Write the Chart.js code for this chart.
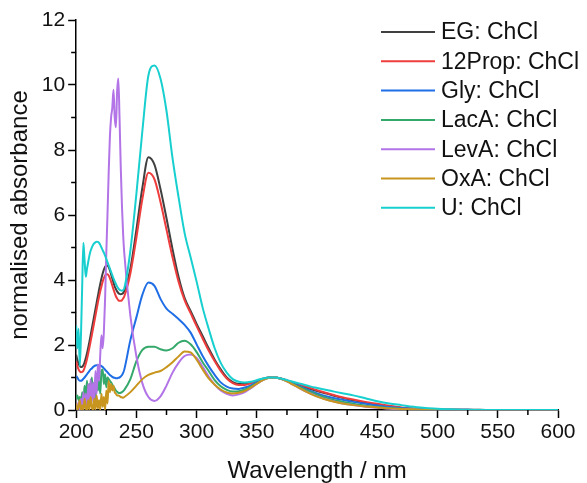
<!DOCTYPE html>
<html>
<head>
<meta charset="utf-8">
<title>normalised absorbance</title>
<script src="https://cdn.jsdelivr.net/npm/chart.js@4.4.1/dist/chart.umd.min.js"></script>
<style>
  html, body { margin: 0; padding: 0; background: #fff; }
  #wrap { width: 587px; height: 483px; }
</style>
</head>
<body>
<div id="wrap"><canvas id="spectra"></canvas></div>
<script>
// wavelength grid (nm): 1 nm steps 200-240, 5 nm to 400, 10 nm to 600
const wavelength = [
  200,201,202,203,204,205,206,207,208,209,
  210,211,212,213,214,215,216,217,218,219,
  220,221,222,223,224,225,226,227,228,229,
  230,231,232,233,234,235,236,237,238,239,
  240,
  245,250,255,260,265,270,275,280,285,290,295,300,305,310,315,320,
  325,330,335,340,345,350,355,360,365,370,375,380,385,390,395,400,
  410,420,430,440,450,460,470,480,490,500,510,520,530,540,550,560,570,580,590,600
];

const seriesNames = ['EG: ChCl', '12Prop: ChCl', 'Gly: ChCl', 'LacA: ChCl', 'LevA: ChCl', 'OxA: ChCl', 'U: ChCl'];
const seriesColors = ['#404040', '#ef3d3d', '#1f6ee6', '#35a86b', '#b274e6', '#c8961e', '#18cfcf'];

const egValues = [
  1.70,1.55,1.42,1.35,1.32,1.33,1.38,1.47,1.60,1.75,
  1.92,2.10,2.30,2.50,2.70,2.90,3.10,3.30,3.50,3.70,
  3.88,4.05,4.20,4.32,4.40,4.45,4.45,4.40,4.30,4.18,
  4.05,3.92,3.80,3.72,3.65,3.60,3.57,3.56,3.57,3.60,
  3.66,
  4.35,5.55,6.85,7.78,7.55,6.80,5.90,4.95,4.10,3.45,3.05,2.65,2.28,1.90,1.55,1.25,
  1.00,0.86,0.80,0.80,0.84,0.90,0.96,1.00,1.00,0.96,0.90,0.83,0.76,0.70,0.64,0.58,
  0.48,0.38,0.30,0.22,0.16,0.10,0.06,0.03,0.02,0.01,0.01,0.01,0,0,0,0,0,0,0,0
];

const propValues = [
  1.50,1.35,1.25,1.19,1.16,1.17,1.21,1.30,1.42,1.57,
  1.74,1.92,2.11,2.30,2.50,2.70,2.90,3.10,3.30,3.48,
  3.65,3.80,3.95,4.06,4.14,4.18,4.18,4.14,4.06,3.95,
  3.83,3.71,3.60,3.50,3.43,3.38,3.36,3.36,3.38,3.43,
  3.50,
  4.20,5.30,6.50,7.30,7.10,6.40,5.55,4.70,3.95,3.38,2.98,2.58,2.20,1.83,1.50,1.20,
  0.97,0.83,0.77,0.77,0.82,0.89,0.95,1.00,1.00,0.97,0.91,0.85,0.79,0.73,0.67,0.61,
  0.50,0.40,0.32,0.25,0.19,0.13,0.08,0.05,0.03,0.02,0.01,0.01,0.01,0,0,0,0,0,0,0
];

const glyValues = [
  1.05,1.00,0.93,0.90,0.90,0.92,0.96,1.00,1.05,1.10,
  1.15,1.20,1.25,1.28,1.32,1.35,1.37,1.38,1.38,1.38,
  1.37,1.35,1.32,1.28,1.24,1.20,1.16,1.12,1.08,1.05,
  1.02,1.00,0.99,0.98,0.98,0.99,1.00,1.03,1.07,1.14,
  1.25,
  2.15,2.85,3.55,3.92,3.82,3.42,3.12,2.96,2.80,2.62,2.38,2.02,1.66,1.35,1.08,0.85,
  0.72,0.66,0.65,0.69,0.76,0.86,0.94,0.99,1.00,0.97,0.90,0.82,0.74,0.66,0.58,0.51,
  0.40,0.32,0.25,0.19,0.14,0.09,0.06,0.04,0.02,0.01,0.01,0.01,0,0,0,0,0,0,0,0
];

const lacValues = [
  0.35,0.45,0.30,0.40,0.20,0.55,0.30,0.75,0.40,0.90,
  0.35,0.80,0.50,1.00,0.45,0.85,0.30,1.05,0.60,0.90,
  0.50,1.20,1.25,0.80,1.10,0.70,1.00,0.95,0.90,0.85,
  0.78,0.72,0.66,0.60,0.56,0.53,0.52,0.53,0.55,0.58,
  0.62,
  0.95,1.50,1.85,1.95,1.95,1.87,1.83,1.90,2.07,2.13,2.02,1.78,1.47,1.20,0.92,0.73,
  0.62,0.57,0.58,0.63,0.72,0.83,0.93,0.99,1.00,0.96,0.89,0.80,0.72,0.63,0.55,0.47,
  0.35,0.26,0.19,0.13,0.09,0.06,0.04,0.02,0.01,0.01,0.01,0,0,0,0,0,0,0,0,0
];

const levValues = [
  0.10,0.00,0.25,0.00,0.35,0.05,0.55,0.10,0.50,0.00,
  0.80,0.15,0.95,0.25,0.85,0.20,1.20,0.50,1.40,0.90,
  1.70,2.30,1.90,2.40,3.40,4.80,6.00,7.30,8.40,9.00,
  9.30,9.85,9.00,8.70,9.80,10.20,9.00,7.50,6.30,5.40,
  4.80,
  2.90,1.65,0.82,0.40,0.28,0.42,0.75,1.15,1.45,1.66,1.71,1.60,1.33,1.03,0.78,0.60,
  0.50,0.45,0.48,0.55,0.67,0.80,0.92,0.99,1.00,0.96,0.88,0.78,0.68,0.58,0.50,0.42,
  0.30,0.21,0.15,0.10,0.07,0.04,0.03,0.02,0.01,0.01,0,0,0,0,0,0,0,0,0,0
];

const oxaValues = [
  0.20,0.00,0.10,0.30,0.00,0.15,0.00,0.35,0.05,0.00,
  0.30,0.00,0.40,0.10,0.00,0.35,0.00,0.45,0.05,0.30,
  0.00,0.50,0.10,0.40,0.00,0.60,0.20,0.90,0.55,0.80,
  0.60,0.75,0.55,0.50,0.45,0.45,0.43,0.40,0.39,0.38,
  0.40,
  0.55,0.75,0.95,1.08,1.15,1.20,1.32,1.47,1.65,1.80,1.77,1.55,1.25,0.97,0.78,0.63,
  0.54,0.51,0.53,0.59,0.69,0.81,0.92,0.99,1.00,0.96,0.88,0.78,0.68,0.58,0.49,0.41,
  0.29,0.21,0.15,0.11,0.08,0.05,0.03,0.02,0.01,0.01,0,0,0,0,0,0,0,0,0,0
];

const ureaValues = [
  2.60,1.90,2.50,1.35,2.30,3.80,5.15,4.60,4.10,4.35,
  4.55,4.75,4.90,5.00,5.08,5.13,5.16,5.18,5.17,5.14,
  5.08,5.00,4.92,4.84,4.75,4.65,4.55,4.45,4.35,4.25,
  4.15,4.05,3.96,3.88,3.80,3.74,3.70,3.68,3.67,3.69,
  3.75,
  4.90,6.65,8.60,10.30,10.60,10.20,9.20,7.75,6.55,5.45,4.70,3.95,3.15,2.50,1.90,1.45,
  1.15,0.95,0.87,0.85,0.87,0.92,0.97,1.00,1.00,0.97,0.92,0.87,0.82,0.77,0.72,0.68,
  0.60,0.52,0.45,0.36,0.27,0.20,0.15,0.10,0.06,0.04,0.02,0.01,0.01,0,0,0,0,0,0,0
];

const allValues = [egValues, propValues, glyValues, lacValues, levValues, oxaValues, ureaValues];

const xTicksMajor = 50;   // nm between labelled ticks
const yTicksMajor = 2;

const FONT = 'Arial, "Liberation Sans", sans-serif';

// minor tick marks half way between the labelled ones
const minorTicks = {
  id: 'minorTicks',
  afterDraw(chart) {
    const ctx = chart.ctx;
    const xs = chart.scales.x, ys = chart.scales.y;
    const area = chart.chartArea;
    ctx.save();
    ctx.strokeStyle = '#000';
    ctx.lineWidth = 1.5;
    ctx.beginPath();
    for (let v = xs.min + xTicksMajor / 2; v < xs.max; v += xTicksMajor) {
      const px = xs.getPixelForValue(v);
      ctx.moveTo(px, area.bottom);
      ctx.lineTo(px, area.bottom + 5);
    }
    for (let v = ys.min + yTicksMajor / 2; v < ys.max; v += yTicksMajor) {
      const py = ys.getPixelForValue(v);
      ctx.moveTo(area.left, py);
      ctx.lineTo(area.left - 5, py);
    }
    ctx.stroke();
    ctx.restore();
  }
};

// legend drawn inside the plot, top right
const insideLegend = {
  id: 'insideLegend',
  afterDraw(chart) {
    const ctx = chart.ctx;
    ctx.save();
    ctx.font = '23px ' + FONT;
    ctx.textBaseline = 'middle';
    ctx.textAlign = 'left';
    chart.data.datasets.forEach((ds, i) => {
      const y = 32 + i * 29.3;
      ctx.strokeStyle = ds.borderColor;
      ctx.lineWidth = 2;
      ctx.beginPath();
      ctx.moveTo(381, y);
      ctx.lineTo(435, y);
      ctx.stroke();
      ctx.fillStyle = '#111';
      ctx.fillText(ds.label, 441, y + 1);
    });
    ctx.restore();
  }
};

const datasets = seriesNames.map((name, i) => ({
  label: name,
  data: allValues[i].map((v, j) => ({ x: wavelength[j], y: v })),
  borderColor: seriesColors[i],
  backgroundColor: seriesColors[i],
  borderWidth: 2,
  pointRadius: 0,
  cubicInterpolationMode: 'monotone',
  order: seriesNames.length - i     // last series drawn on top
}));

new Chart(document.getElementById('spectra'), {
  type: 'line',
  data: { datasets: datasets },
  options: {
    responsive: true,
    maintainAspectRatio: false,
    animation: false,
    events: [],
    layout: { padding: { left: 2, right: 29, top: 20, bottom: 0 } },
    scales: {
      x: {
        type: 'linear',
        min: 200,
        max: 600,
        ticks: { stepSize: xTicksMajor, color: '#111', padding: 4, font: { size: 21, family: FONT, lineHeight: 1.0 } },
        grid: { drawOnChartArea: false, tickLength: 8, tickColor: '#000', tickWidth: 1.5 },
        border: { display: true, color: '#000', width: 1.5 },
        title: { display: true, text: 'Wavelength / nm', color: '#111', padding: { top: 12, bottom: 0 }, font: { size: 24, family: FONT, lineHeight: 1.0 } }
      },
      y: {
        min: 0,
        max: 12,
        ticks: { stepSize: yTicksMajor, color: '#111', padding: 3, font: { size: 21, family: FONT } },
        grid: { drawOnChartArea: false, tickLength: 8, tickColor: '#000', tickWidth: 1.5 },
        border: { display: true, color: '#000', width: 1.5 },
        title: { display: true, text: 'normalised absorbance', color: '#111', padding: { top: 4, bottom: 4 }, font: { size: 24, family: FONT } }
      }
    },
    plugins: {
      legend: { display: false },
      tooltip: { enabled: false }
    }
  },
  plugins: [minorTicks, insideLegend]
});
</script>
</body>
</html>
